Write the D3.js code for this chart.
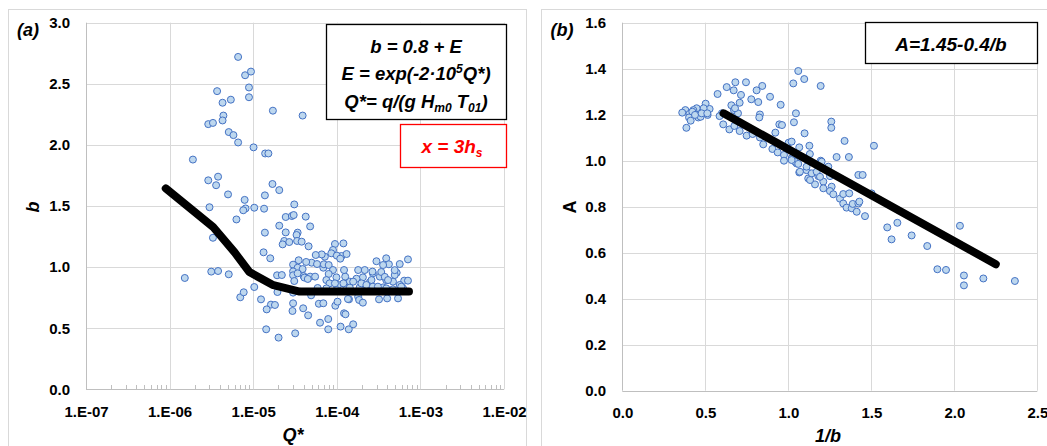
<!DOCTYPE html>
<html>
<head>
<meta charset="utf-8">
<script src="https://cdn.jsdelivr.net/npm/d3@7"></script>
<style>
  body { margin: 0; background: #fff; }
  svg { display: block; font-family: "Liberation Sans", Arial, sans-serif; }
  .tick text { font-weight: 700; font-size: 15px; fill: #000; }
</style>
</head>
<body>
<script>
// panel (a): Q* vs b
var leftPoints = [
  [6.6e-6,2.72],[8.0e-6,2.57],[9.4e-6,2.60],[8.9e-6,2.47],[8.9e-6,2.39],[3.7e-6,2.44],[5.4e-6,2.37],[4.3e-6,2.345],
  [4.4e-6,2.24],[4.3e-6,2.20],[2.9e-6,2.17],[3.3e-6,2.18],[1.72e-5,2.28],[3.9e-5,2.24],[5.1e-6,2.105],[5.8e-6,2.08],
  [6.6e-6,2.02],[1.01e-5,1.98],[1.39e-5,1.93],[1.52e-5,1.93],[1.9e-6,1.88],[2.9e-6,1.71],[3.8e-6,1.74],[3.6e-6,1.67],
  [1.7e-5,1.68],[2.05e-5,1.63],[5.0e-6,1.595],[1.38e-5,1.587],[7.9e-6,1.55],[3.0e-6,1.49],[8.1e-6,1.48],[7.6e-6,1.465],
  [1.03e-5,1.486],[1.35e-5,1.478],[3.1e-5,1.513],[6.3e-6,1.39],[2.45e-5,1.41],[2.9e-5,1.418],[3.05e-5,1.426],[4.25e-5,1.413],
  [4.8e-5,1.333],[2.05e-5,1.339],[3.3e-6,1.24],[1.38e-5,1.282],[2.45e-5,1.284],[3.4e-5,1.282],[3.3e-5,1.263],[3.35e-5,1.214],
  [2.35e-5,1.214],[2.7e-5,1.205],[2.25e-5,1.186],[4.6e-5,1.17],[3.8e-5,1.208],
  [9.5e-5,1.189],[1.2e-4,1.194],[9.0e-5,1.14],[8.6e-5,1.113],[1.14e-4,1.091],[1.31e-4,1.107],[7.2e-5,1.085],[6.6e-5,1.104],
  [5.6e-5,1.099],[5.0e-5,1.036],[5.8e-5,1.025],[1.0e-4,1.094],[1.1e-4,1.069],
  [1.33e-5,1.121],[1.6e-5,1.072],[3.5e-5,1.056],[4.3e-5,1.042],[3.0e-5,1.02],[3.4e-5,0.995],[3.0e-5,0.965],[3.0e-5,0.933],
  [3.1e-5,0.886],[4.0e-5,0.927],[4.1e-5,0.914],[4.8e-5,0.922],[5.5e-5,0.922],[6.9e-5,0.995],[7.0e-5,1.023],[3.9e-5,0.984],
  [8.0e-5,1.017],[3.4e-5,0.949],[4.5e-5,0.903],
  [1.52e-6,0.911],[3.15e-6,0.963],[3.8e-6,0.968],[5.1e-6,0.941],[1.93e-5,0.933],[1.03e-5,0.837],[1.95e-5,0.796],[7.0e-6,0.753],
  [7.7e-6,0.794],[1.24e-5,0.736],[1.63e-5,0.693],[1.45e-5,0.654],[2.2e-5,0.935],
  [1.82e-5,0.69],[1.43e-5,0.491],[2.01e-5,0.423],[3.18e-5,0.458],[3.0e-5,0.791],[3.0e-5,0.704],[2.95e-5,0.641],[3.96e-5,0.663],
  [4.54e-5,0.605],[4.93e-5,0.769],[6.3e-5,0.545],[7.9e-5,0.575],[7.9e-5,0.491],[1.11e-4,0.513],[1.39e-4,0.491],[1.57e-4,0.532],
  [6.1e-5,0.70],[6.9e-5,0.704],[9.6e-5,0.684],[1.02e-4,0.717],[1.22e-4,0.622],[1.27e-4,0.614],[1.4e-4,0.736],[1.8e-4,0.758],
  [1.85e-4,0.731],[2.05e-4,0.709],[3.2e-4,0.736],[4.0e-4,0.744],[5.4e-4,0.744],[1.36e-4,0.739],
  [2.98e-4,1.048],[3.9e-4,1.072],[4.2e-4,1.023],[5.66e-4,1.025],[7.1e-4,1.063],[3.58e-4,1.017],[5.2e-4,0.954],[4.93e-4,0.935],
  [6.4e-4,0.889],[7.1e-4,0.889],[5.66e-4,0.854],[4.7e-4,0.881],[3.9e-4,0.894],[3.27e-4,0.922],[2.7e-4,0.949],[2.48e-4,0.875],
  [2.05e-4,0.916],[1.8e-4,0.976],[2.16e-4,0.976],[1.72e-4,0.905],[1.43e-4,0.881],[1.26e-4,0.922],[1.22e-4,0.976],[9.9e-5,0.916],
  [9.0e-5,0.976],[8.0e-5,0.944],[7.5e-5,0.894],[8.2e-5,0.867],[1.04e-4,0.854],[1.31e-4,0.834],[1.57e-4,0.881],[1.88e-4,0.834],
  [5.9e-5,0.829],[7.5e-5,0.826],[9.9e-5,0.813],[1.43e-4,0.832],[2.26e-4,0.826],[3.58e-4,0.834],[4.7e-4,0.818],[6.2e-4,0.826],
  [2.67e-4,0.963],[3.4e-4,0.96],[4.93e-4,0.975],[3.75e-4,0.92],[4.1e-4,0.894],[2.6e-4,0.894],[1.97e-4,0.867],[2.26e-4,0.854],
  [2.7e-4,0.84],[5.9e-4,0.84],[3.9e-4,0.826],[3.1e-4,0.84],[1.2e-4,0.867],[9.5e-5,0.867]
];
// fitted curve b = 0.8 + E (as drawn)
var lineQ = [9e-7, 3.3e-6, 6e-6, 9e-6, 1.7e-5, 3.6e-5, 7.3e-4];
var lineB = [1.644, 1.33, 1.12, 0.96, 0.855, 0.80, 0.80];
var leftXTicks = [1e-7, 1e-6, 1e-5, 1e-4, 1e-3, 1e-2];
var leftYTicks = [0, 0.5, 1, 1.5, 2, 2.5, 3];

// panel (b): 1/b vs A
var rightPoints = [
  [1.060,1.390],[1.096,1.355],[1.030,1.336],[1.195,1.325],[0.681,1.341],[0.745,1.341],[0.629,1.320],[0.671,1.306],
  [0.843,1.325],[0.809,1.306],[0.574,1.290],[0.715,1.286],[0.777,1.267],[0.819,1.255],[0.890,1.278],[0.707,1.252],
  [0.954,1.243],[0.657,1.241],[0.502,1.248],[0.526,1.225],[0.490,1.228],[0.448,1.228],[0.428,1.220],[0.380,1.220],
  [0.361,1.209],[0.404,1.203],[0.422,1.213],[0.402,1.188],[0.412,1.174],[0.458,1.188],[0.472,1.191],[0.514,1.199],
  [0.386,1.143],[0.673,1.220],[0.697,1.206],[0.600,1.206],[0.586,1.194],[0.829,1.201],[0.825,1.188],[1.046,1.206],
  [1.034,1.167],[0.946,1.158],[0.962,1.155],[1.098,1.119],[0.922,1.122],[0.608,1.158],[0.645,1.136],[0.675,1.151],
  [0.707,1.129],[0.749,1.109],[0.785,1.116],[0.829,1.101],[0.849,1.071],[0.904,1.051],[0.936,1.036],[1.002,1.078],
  [1.020,1.083],[1.066,1.058],[1.127,1.065],[1.259,1.170],[1.259,1.143],[1.339,1.086],[1.516,1.065],[1.291,1.016],
  [1.365,1.016],[0.974,1.025],[0.974,1.000],[1.020,1.010],[1.050,0.988],[1.080,1.017],[1.130,1.029],[1.195,1.000],
  [1.066,0.949],[1.120,0.923],[1.161,0.897],[1.211,0.909],[1.110,0.959],[1.141,0.945],[1.181,0.933],[1.251,0.933],
  [1.422,0.938],[1.448,0.938],[1.261,0.887],[1.211,0.880],[1.251,0.868],[1.271,0.854],[1.311,0.835],[1.331,0.855],
  [1.367,0.858],[1.331,0.814],[1.351,0.796],[1.382,0.793],[1.412,0.778],[1.388,0.812],[1.422,0.814],[1.428,0.822],
  [1.462,0.759],[1.502,0.858],[1.596,0.710],[1.622,0.658],[1.657,0.730],[1.743,0.675],[1.837,0.629],[2.034,0.717],
  [1.898,0.528],[1.950,0.525],[2.058,0.501],[2.058,0.458],[2.175,0.488],[2.365,0.477],
  [1.131,0.916],[1.070,0.952],[1.040,0.996],[1.060,0.986],[1.171,0.952],[1.191,0.930],[1.241,0.974],[1.201,0.996],
  [1.020,1.003],[1.110,0.974],[0.438,1.199],[0.478,1.206],[0.512,1.206],[0.679,1.228]
];
var lineX = [0.61, 2.25];
var lineA = [1.206, 0.55];
var rightXTicks = [0, 0.5, 1, 1.5, 2, 2.5];
var rightYTicks = [0, 0.2, 0.4, 0.6, 0.8, 1, 1.2, 1.4, 1.6];

var W = 1047, H = 446;
var svg = d3.select("body").append("svg").attr("width", W).attr("height", H);

// panel frames
svg.append("rect").attr("x", 8.5).attr("y", 9.5).attr("width", 518).attr("height", 460)
  .attr("fill", "none").attr("stroke", "#d9d9d9");
svg.append("rect").attr("x", 541.5).attr("y", 9.5).attr("width", 520).attr("height", 460)
  .attr("fill", "none").attr("stroke", "#d9d9d9");

var gridColor = "#d9d9d9";
var ptFill = "#bdd7ee", ptStroke = "#4472c4";

// ---------- panel (a) ----------
var xa = d3.scaleLog().domain([1e-7, 1e-2]).range([86, 504]);
var ya = d3.scaleLinear().domain([0, 3]).range([389.3, 22.7]);

var ga = svg.append("g");
ga.selectAll("line.hg").data(leftYTicks).enter().append("line")
  .attr("x1", 86).attr("x2", 504)
  .attr("y1", d => Math.round(ya(d)) + 0.5).attr("y2", d => Math.round(ya(d)) + 0.5)
  .attr("stroke", d => d === 0 ? "#bfbfbf" : gridColor);
ga.selectAll("line.vg").data(leftXTicks).enter().append("line")
  .attr("x1", d => Math.round(xa(d)) + 0.5).attr("x2", d => Math.round(xa(d)) + 0.5)
  .attr("y1", 22.7).attr("y2", 389.3)
  .attr("stroke", (d, i) => i === 0 ? "#bfbfbf" : gridColor);

var minor = [];
for (var e = -7; e < -2; e++) for (var k = 2; k < 10; k++) minor.push(k * Math.pow(10, e));
ga.selectAll("line.mt").data(minor).enter().append("line")
  .attr("x1", d => Math.round(xa(d)) + 0.5).attr("x2", d => Math.round(xa(d)) + 0.5)
  .attr("y1", 385).attr("y2", 389).attr("stroke", "#bfbfbf");

var fmtExp = function(d) {
  var p = Math.round(Math.log10(d));
  return "1.E" + (p < 0 ? "-" : "+") + String(Math.abs(p)).padStart(2, "0");
};
ga.append("g").attr("transform", "translate(0,403)")
  .call(d3.axisBottom(xa).tickValues(leftXTicks).tickFormat(fmtExp).tickSize(0))
  .call(g => g.select(".domain").remove());
ga.append("g").attr("transform", "translate(70,0)")
  .call(d3.axisLeft(ya).tickValues(leftYTicks).tickFormat(d3.format(".1f")).tickSize(0))
  .call(g => g.select(".domain").remove())
  .call(g => g.selectAll("text").attr("x", 0));

ga.selectAll("circle").data(leftPoints).enter().append("circle")
  .attr("cx", d => xa(d[0])).attr("cy", d => ya(d[1])).attr("r", 3.5)
  .attr("fill", ptFill).attr("stroke", ptStroke).attr("stroke-width", 1);

ga.append("path").datum(d3.zip(lineQ, lineB))
  .attr("d", d3.line().x(d => xa(d[0])).y(d => ya(d[1])))
  .attr("fill", "none").attr("stroke", "#000").attr("stroke-width", 8)
  .attr("stroke-linecap", "round").attr("stroke-linejoin", "round");

// labels
svg.append("text").attr("x", 28).attr("y", 36).attr("text-anchor", "middle")
  .style("font-weight", 700).style("font-style", "italic").style("font-size", "18px").text("(a)");
svg.append("text").attr("transform", "translate(39,207) rotate(-90)").attr("text-anchor", "middle")
  .style("font-weight", 700).style("font-style", "italic").style("font-size", "18px").text("b");
svg.append("text").attr("x", 293).attr("y", 441).attr("text-anchor", "middle")
  .style("font-weight", 700).style("font-style", "italic").style("font-size", "18px").text("Q*");

// equation box
svg.append("rect").attr("x", 326.5).attr("y", 24.5).attr("width", 180).attr("height", 95)
  .attr("fill", "#fff").attr("stroke", "#000").attr("stroke-width", 1.3);
var eq = svg.append("text").attr("text-anchor", "middle")
  .style("font-weight", 700).style("font-style", "italic").style("font-size", "18.5px");
eq.append("tspan").attr("x", 416).attr("y", 53).text("b = 0.8 + E");
var l2 = eq.append("tspan").attr("x", 416).attr("y", 80);
l2.append("tspan").text("E = exp(-2\u00b710");
l2.append("tspan").attr("dy", -7).style("font-size", "12px").text("5");
l2.append("tspan").attr("dy", 7).text("Q*)");
var l3 = eq.append("tspan").attr("x", 416).attr("y", 108);
l3.append("tspan").text("Q*= q/(g H");
l3.append("tspan").attr("dy", 4).style("font-size", "12px").text("m0");
l3.append("tspan").attr("dy", -4).text(" T");
l3.append("tspan").attr("dy", 4).style("font-size", "12px").text("01");
l3.append("tspan").attr("dy", -4).text(")");

svg.append("rect").attr("x", 400.5).attr("y", 124.5).attr("width", 106).attr("height", 43)
  .attr("fill", "#fff").attr("stroke", "#ff0000").attr("stroke-width", 1.3);
var xt = svg.append("text").attr("x", 452).attr("y", 153).attr("text-anchor", "middle")
  .attr("fill", "#ff0000")
  .style("font-weight", 700).style("font-style", "italic").style("font-size", "19px");
xt.append("tspan").text("x = 3h");
xt.append("tspan").attr("dy", 4).style("font-size", "12px").text("s");

// ---------- panel (b) ----------
var xb = d3.scaleLinear().domain([0, 2.5]).range([622.3, 1037.3]);
var yb = d3.scaleLinear().domain([0, 1.6]).range([390.7, 22.7]);

var gb = svg.append("g");
gb.selectAll("line.hg").data(rightYTicks).enter().append("line")
  .attr("x1", 622.3).attr("x2", 1037.3)
  .attr("y1", d => Math.round(yb(d)) + 0.5).attr("y2", d => Math.round(yb(d)) + 0.5)
  .attr("stroke", d => d === 0 ? "#bfbfbf" : gridColor);
gb.selectAll("line.vg").data(rightXTicks).enter().append("line")
  .attr("x1", d => Math.round(xb(d)) + 0.5).attr("x2", d => Math.round(xb(d)) + 0.5)
  .attr("y1", 22.7).attr("y2", 390.7)
  .attr("stroke", (d, i) => i === 0 ? "#bfbfbf" : gridColor);

gb.append("g").attr("transform", "translate(0,404)")
  .call(d3.axisBottom(xb).tickValues(rightXTicks).tickFormat(d3.format(".1f")).tickSize(0))
  .call(g => g.select(".domain").remove());
gb.append("g").attr("transform", "translate(606,0)")
  .call(d3.axisLeft(yb).tickValues(rightYTicks).tickFormat(d3.format(".1f")).tickSize(0))
  .call(g => g.select(".domain").remove())
  .call(g => g.selectAll("text").attr("x", 0));

gb.selectAll("circle").data(rightPoints).enter().append("circle")
  .attr("cx", d => xb(d[0])).attr("cy", d => yb(d[1])).attr("r", 3.5)
  .attr("fill", ptFill).attr("stroke", ptStroke).attr("stroke-width", 1);

gb.append("path").datum(d3.zip(lineX, lineA))
  .attr("d", d3.line().x(d => xb(d[0])).y(d => yb(d[1])))
  .attr("fill", "none").attr("stroke", "#000").attr("stroke-width", 8)
  .attr("stroke-linecap", "round");

svg.append("text").attr("x", 562).attr("y", 36).attr("text-anchor", "middle")
  .style("font-weight", 700).style("font-style", "italic").style("font-size", "18px").text("(b)");
svg.append("text").attr("transform", "translate(576,207) rotate(-90)").attr("text-anchor", "middle")
  .style("font-weight", 700).style("font-size", "18px").text("A");
svg.append("text").attr("x", 828).attr("y", 442).attr("text-anchor", "middle")
  .style("font-weight", 700).style("font-style", "italic").style("font-size", "18px").text("1/b");

svg.append("rect").attr("x", 865.5).attr("y", 22.5).attr("width", 172).attr("height", 41)
  .attr("fill", "#fff").attr("stroke", "#000").attr("stroke-width", 1.3);
svg.append("text").attr("x", 951).attr("y", 51).attr("text-anchor", "middle")
  .style("font-weight", 700).style("font-style", "italic").style("font-size", "19px").text("A=1.45-0.4/b");
</script>
</body>
</html>
